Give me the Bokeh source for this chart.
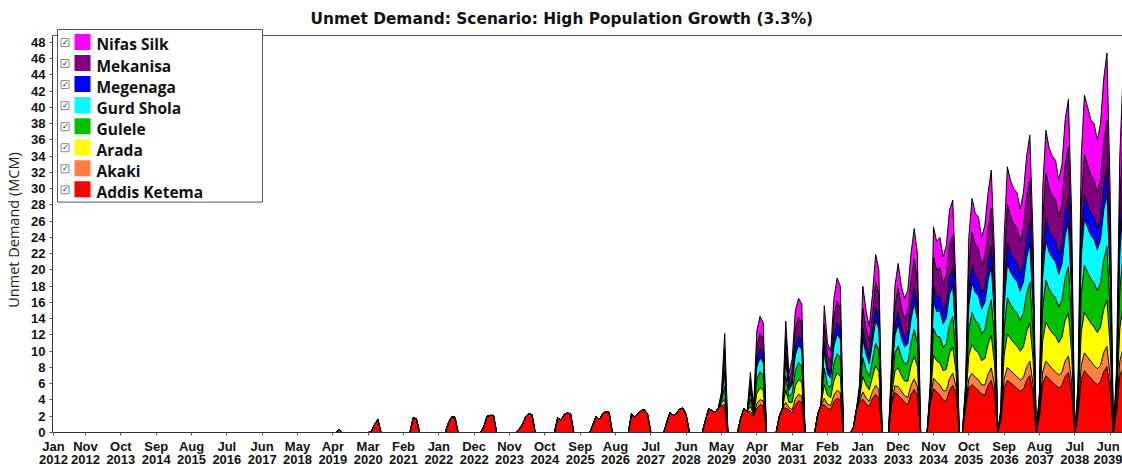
from bokeh.plotting import figure
from bokeh.models import Range1d, FixedTicker, ColumnDataSource
from bokeh.embed import file_html
from bokeh.resources import INLINE
from bokeh.core.properties import value

# ---------------------------------------------------------------------------
# Monthly unmet demand (MCM) per demand site.
# Each row is one dry season: Aug of the previous year .. Jul of the key year.
# Months not listed are zero. The 2040 row only reaches Oct 2039.
# ---------------------------------------------------------------------------
START_YEAR = 2012
N_MONTHS = 334  # Jan 2012 .. Oct 2039

ADDIS_KETEMA = {
    2019: [0, 0, 0, 0, 0, 0, 0, 0, 0, 0, 0.4, 0],
    2020: [0, 0, 0, 0, 0, 0, 0, 0, 0.1, 1.0, 1.6, 0],
    2021: [0, 0, 0, 0, 0, 0, 0, 0, 0, 1.8, 1.7, 0],
    2022: [0, 0, 0, 0, 0, 0, 0, 0, 1.2, 1.9, 1.9, 0],
    2023: [0, 0, 0, 0, 0, 0, 0, 0.7, 2.0, 2.1, 2.1, 0],
    2024: [0, 0, 0, 0, 0, 0, 0.4, 1.0, 1.9, 2.3, 2.2, 0],
    2025: [0, 0, 0, 0, 0, 0, 1.8, 1.5, 2.2, 2.4, 2.3, 0],
    2026: [0, 0, 0, 0, 0, 1.0, 2.0, 1.6, 2.3, 2.6, 2.5, 0],
    2027: [0, 0, 0, 0, 0, 2.3, 1.9, 2.3, 2.7, 2.8, 2.2, 0],
    2028: [0, 0, 0, 0, 1.3, 2.5, 2.1, 2.4, 2.9, 3.0, 2.2, 0],
    2029: [0, 0, 0, 0, 1.5, 2.9, 2.7, 2.45, 3.0, 3.3, 3.0, 0],
    2030: [0, 0, 0, 1.8, 3.0, 2.6, 2.3, 2.0, 3.0, 3.4, 3.3, 0],
    2031: [0, 0, 0, 2.0, 3.0, 3.0, 2.8, 2.4, 3.4, 3.9, 3.7, 0],
    2032: [0, 0, 0, 2.3, 3.4, 3.4, 3.0, 2.8, 3.8, 4.2, 4.0, 0],
    2033: [0, 0, 0.5, 2.8, 3.8, 4.1, 3.5, 3.2, 4.2, 4.7, 4.3, 0],
    2034: [0, 0, 3.5, 4.9, 4.6, 4.2, 3.7, 3.4, 4.7, 5.3, 4.5, 0],
    2035: [0, 0, 3.5, 5.4, 5.0, 4.6, 4.0, 3.9, 5.2, 5.8, 4.8, 0],
    2036: [0, 3.0, 5.5, 5.9, 5.5, 5.2, 4.7, 4.6, 5.8, 6.4, 4.8, 0],
    2037: [1.5, 5.5, 6.4, 6.1, 5.8, 5.4, 5.1, 5.3, 6.4, 7.0, 4.8, 0],
    2038: [2.0, 6.0, 7.0, 6.6, 6.2, 5.8, 5.5, 5.8, 6.9, 7.4, 5.0, 0],
    2039: [2.2, 6.5, 7.6, 7.1, 6.7, 6.2, 5.9, 6.2, 7.5, 8.1, 5.3, 0],
    2040: [2.5, 7.0, 8.0],
}

AKAKI = {
    2029: [0, 0, 0, 0, 0, 0, 0, 0, 0, 0.1, 0.4, 0],
    2030: [0, 0, 0, 0, 0, 0, 0.3, 0.1, 0.6, 0.65, 0.6, 0],
    2031: [0, 0, 0, 0, 0, 0.7, 0.3, 0.4, 0.75, 0.8, 0.8, 0],
    2032: [0, 0, 0, 0, 0, 0.8, 0.5, 0.5, 0.8, 1.0, 0.9, 0],
    2033: [0, 0, 0, 0, 0.15, 0.9, 0.75, 0.65, 0.85, 1.1, 1.0, 0],
    2034: [0, 0, 0.35, 0.85, 1.05, 0.9, 0.85, 0.9, 1.1, 1.3, 1.15, 0],
    2035: [0, 0, 0.15, 1.3, 1.2, 1.25, 1.15, 1.25, 1.45, 1.5, 0.85, 0],
    2036: [0, 0.2, 1.1, 1.4, 1.3, 1.3, 1.15, 1.25, 1.4, 1.55, 1.05, 0],
    2037: [0.1, 1.1, 1.6, 1.5, 1.45, 1.45, 1.35, 1.45, 1.65, 1.8, 1.15, 0],
    2038: [0.2, 1.45, 1.8, 1.7, 1.65, 1.65, 1.55, 1.65, 1.9, 2.0, 1.3, 0],
    2039: [0.25, 1.8, 2.2, 2.15, 2.05, 2.05, 1.95, 2.05, 2.35, 2.5, 1.6, 0],
    2040: [0.35, 1.75, 2.35],
}

ARADA = {
    2029: [0, 0, 0, 0, 0, 0, 0, 0, 0, 0.2, 0.7, 0],
    2030: [0, 0, 0, 0, 0, 0, 0.6, 0.1, 1.2, 1.45, 1.3, 0],
    2031: [0, 0, 0, 0, 0, 1.5, 0.6, 0.9, 1.6, 1.8, 1.7, 0],
    2032: [0, 0, 0, 0, 0, 1.7, 1.1, 1.0, 1.8, 2.1, 2.0, 0],
    2033: [0, 0, 0, 0, 0.3, 1.9, 1.6, 1.4, 1.8, 2.4, 2.2, 0],
    2034: [0, 0, 0.75, 1.8, 2.3, 1.9, 1.8, 2.0, 2.4, 2.8, 2.45, 0],
    2035: [0, 0, 0.35, 2.8, 2.6, 2.7, 2.45, 2.65, 3.1, 3.2, 1.85, 0],
    2036: [0, 0.45, 2.9, 3.55, 3.35, 3.3, 3.0, 3.25, 3.7, 4.0, 2.65, 0],
    2037: [0.25, 2.9, 4.15, 3.95, 3.8, 3.8, 3.55, 3.8, 4.35, 4.7, 3.05, 0],
    2038: [0.45, 3.8, 4.8, 4.5, 4.4, 4.4, 4.0, 4.3, 5.0, 5.3, 3.5, 0],
    2039: [0.55, 4.05, 5.0, 4.85, 4.7, 4.7, 4.45, 4.7, 5.3, 5.7, 3.65, 0],
    2040: [0.8, 4.0, 5.3],
}

GULELE = {
    2029: [0, 0, 0, 0, 0, 0, 0, 0, 0, 0.3, 1.6, 0],
    2030: [0, 0, 0, 0, 0, 0, 0.9, 0.2, 1.7, 2.0, 1.8, 0],
    2031: [0, 0, 0, 0, 0, 1.8, 0.75, 1.1, 1.9, 2.1, 2.0, 0],
    2032: [0, 0, 0, 0, 0, 2.0, 1.3, 1.2, 2.1, 2.4, 2.3, 0],
    2033: [0, 0, 0, 0, 0.35, 2.3, 1.9, 1.6, 2.1, 2.8, 2.6, 0],
    2034: [0, 0, 0.9, 2.2, 2.7, 2.3, 2.1, 2.3, 2.85, 3.25, 2.9, 0],
    2035: [0, 0, 0.4, 3.3, 3.05, 3.2, 2.9, 3.15, 3.65, 3.75, 2.2, 0],
    2036: [0, 0.5, 3.15, 3.9, 3.65, 3.6, 3.3, 3.55, 4.0, 4.4, 2.9, 0],
    2037: [0.25, 3.15, 4.45, 4.2, 4.1, 4.1, 3.8, 4.1, 4.7, 5.0, 3.25, 0],
    2038: [0.5, 4.1, 5.15, 4.85, 4.75, 4.7, 4.35, 4.6, 5.35, 5.7, 3.75, 0],
    2039: [0.65, 4.7, 5.8, 5.6, 5.45, 5.45, 5.15, 5.45, 6.15, 6.6, 4.2, 0],
    2040: [0.95, 4.6, 6.15],
}

GURD_SHOLA = {
    2029: [0, 0, 0, 0, 0, 0, 0, 0, 0, 0.3, 1.5, 0],
    2030: [0, 0, 0, 0, 0, 0, 0.8, 0.2, 1.5, 1.7, 1.6, 0],
    2031: [0, 0, 0, 0, 0, 1.8, 0.75, 1.1, 1.9, 2.1, 2.0, 0],
    2032: [0, 0, 0, 0, 0, 2.0, 1.3, 1.2, 2.1, 2.4, 2.3, 0],
    2033: [0, 0, 0, 0, 0.35, 2.3, 1.9, 1.6, 2.1, 2.85, 2.6, 0],
    2034: [0, 0, 0.9, 2.2, 2.7, 2.3, 2.1, 2.3, 2.85, 3.25, 2.9, 0],
    2035: [0, 0, 0.4, 3.3, 3.05, 3.2, 2.9, 3.15, 3.65, 3.75, 2.2, 0],
    2036: [0, 0.5, 2.95, 3.65, 3.45, 3.4, 3.1, 3.35, 3.8, 4.15, 2.75, 0],
    2037: [0.25, 2.95, 4.2, 4.0, 3.9, 3.85, 3.6, 3.9, 4.4, 4.75, 3.05, 0],
    2038: [0.5, 3.85, 4.85, 4.55, 4.5, 4.45, 4.1, 4.4, 5.1, 5.4, 3.55, 0],
    2039: [0.65, 4.6, 5.7, 5.55, 5.35, 5.35, 5.05, 5.35, 6.05, 6.5, 4.15, 0],
    2040: [0.9, 4.55, 6.05],
}

MEGENAGA = {
    2029: [0, 0, 0, 0, 0, 0, 0, 0, 0, 0.1, 0.5, 0],
    2030: [0, 0, 0, 0, 0, 0, 0.6, 0.1, 1.0, 1.2, 1.1, 0],
    2031: [0, 0, 0, 0, 0, 1.0, 0.4, 0.6, 1.1, 1.2, 1.15, 0],
    2032: [0, 0, 0, 0, 0, 1.2, 0.8, 0.7, 1.2, 1.4, 1.3, 0],
    2033: [0, 0, 0, 0, 0.2, 1.3, 1.1, 0.9, 1.2, 1.65, 1.5, 0],
    2034: [0, 0, 0.55, 1.25, 1.5, 1.3, 1.2, 1.35, 1.65, 1.9, 1.65, 0],
    2035: [0, 0, 0.25, 1.9, 1.75, 1.85, 1.7, 1.8, 2.1, 2.15, 1.25, 0],
    2036: [0, 0.3, 1.75, 2.2, 2.05, 2.0, 1.85, 2.0, 2.25, 2.45, 1.65, 0],
    2037: [0.15, 1.75, 2.5, 2.35, 2.3, 2.3, 2.1, 2.3, 2.6, 2.8, 1.8, 0],
    2038: [0.3, 2.3, 2.85, 2.7, 2.65, 2.65, 2.4, 2.6, 3.0, 3.2, 2.1, 0],
    2039: [0.3, 2.35, 2.9, 2.8, 2.7, 2.7, 2.55, 2.7, 3.05, 3.3, 2.1, 0],
    2040: [0.45, 2.3, 3.05],
}

MEKANISA = {
    2029: [0, 0, 0, 0, 0, 0, 0, 0, 0, 0.4, 2.5, 0],
    2030: [0, 0, 0, 0, 0, 0, 0.9, 0.15, 1.6, 1.8, 1.8, 0],
    2031: [0, 0, 0, 0, 0, 1.9, 0.8, 1.2, 2.1, 2.3, 2.2, 0],
    2032: [0, 0, 0, 0, 0, 2.2, 1.5, 1.3, 2.3, 2.7, 2.5, 0],
    2033: [0, 0, 0, 0, 0.4, 2.5, 2.1, 1.8, 2.3, 3.1, 2.8, 0],
    2034: [0, 0, 1.0, 2.35, 2.9, 2.5, 2.3, 2.55, 3.1, 3.6, 3.15, 0],
    2035: [0, 0, 0.45, 3.6, 3.35, 3.5, 3.15, 3.45, 4.0, 4.1, 2.35, 0],
    2036: [0, 0.5, 3.3, 4.1, 3.85, 3.85, 3.45, 3.75, 4.25, 4.65, 3.1, 0],
    2037: [0.25, 3.3, 4.75, 4.5, 4.35, 4.35, 4.05, 4.35, 5.0, 5.3, 3.45, 0],
    2038: [0.55, 4.35, 5.5, 5.15, 5.05, 5.05, 4.65, 4.95, 5.75, 6.1, 4.0, 0],
    2039: [0.55, 4.05, 5.0, 4.9, 4.7, 4.7, 4.45, 4.7, 5.35, 5.7, 3.65, 0],
    2040: [0.8, 4.0, 5.35],
}

NIFAS_SILK = {
    2029: [0, 0, 0, 0, 0, 0, 0, 0, 0, 0.3, 2.0, 0],
    2030: [0, 0, 0, 0, 0, 0, 1.0, 0.15, 1.9, 2.1, 2.0, 0],
    2031: [0, 0, 0, 0, 0, 2.0, 0.9, 1.3, 2.25, 2.3, 2.25, 0],
    2032: [0, 0, 0, 0, 0, 2.3, 1.5, 1.3, 2.4, 2.8, 2.7, 0],
    2033: [0, 0, 0, 0, 0.45, 2.7, 2.15, 1.85, 2.45, 3.3, 3.0, 0],
    2034: [0, 0, 1.05, 2.45, 3.05, 2.6, 2.45, 2.7, 3.35, 3.7, 3.3, 0],
    2035: [0, 0, 0.5, 3.7, 3.5, 3.7, 3.35, 3.65, 4.25, 4.35, 2.5, 0],
    2036: [0, 0.55, 3.35, 4.1, 3.85, 3.85, 3.45, 3.75, 4.3, 4.7, 3.1, 0],
    2037: [0.25, 3.35, 4.65, 4.4, 4.3, 4.25, 3.95, 4.3, 4.9, 5.25, 3.45, 0],
    2038: [0.5, 4.15, 5.25, 4.95, 4.8, 4.8, 4.45, 4.7, 5.5, 5.9, 3.8, 0],
    2039: [0.85, 5.95, 7.3, 7.05, 6.85, 6.85, 6.5, 6.85, 7.75, 8.3, 5.35, 0],
    2040: [1.25, 5.8, 7.75],
}

# bottom of the stack first
SITES = ["Addis Ketema", "Akaki", "Arada", "Gulele", "Gurd Shola", "Megenaga", "Mekanisa", "Nifas Silk"]
SITE_ROWS = [ADDIS_KETEMA, AKAKI, ARADA, GULELE, GURD_SHOLA, MEGENAGA, MEKANISA, NIFAS_SILK]
SITE_COLORS = ["#FF0000", "#FF7F40", "#FFFF00", "#00C000", "#00FFFF", "#0000FF", "#800080", "#FF00FF"]

TICK_LABELS = [
    "Jan 2012", "Nov 2012", "Oct 2013", "Sep 2014", "Aug 2015", "Jul 2016", "Jun 2017", "May 2018",
    "Apr 2019", "Mar 2020", "Feb 2021", "Jan 2022", "Dec 2022", "Nov 2023", "Oct 2024", "Sep 2025",
    "Aug 2026", "Jul 2027", "Jun 2028", "May 2029", "Apr 2030", "Mar 2031", "Feb 2032", "Jan 2033",
    "Dec 2033", "Nov 2034", "Oct 2035", "Sep 2036", "Aug 2037", "Jul 2038", "Jun 2039",
]
Y_TICKS = list(range(0, 49, 2))
MONTH_NAMES = ["Jan", "Feb", "Mar", "Apr", "May", "Jun", "Jul", "Aug", "Sep", "Oct", "Nov", "Dec"]


def monthly(rows):
    out = [0.0] * N_MONTHS
    for season, vals in rows.items():
        first = (season - 1 - START_YEAR) * 12 + 7  # August before the season year
        for k, v in enumerate(vals):
            out[first + k] = v
    return out


def month_index(label):
    mon, year = label.split()
    return (int(year) - START_YEAR) * 12 + MONTH_NAMES.index(mon)


data = {"m": list(range(N_MONTHS))}
for name, rows in zip(SITES, SITE_ROWS):
    data[name] = monthly(rows)
source = ColumnDataSource(data)

# ---------------------------------------------------------------------------
# Figure geometry
# ---------------------------------------------------------------------------
W, H = 1122, 470
LEFT, TOP, BOTTOM = 52, 27, 37
FRAME_W = W - LEFT
FRAME_H = H - TOP - BOTTOM
PX_PER_MONTH = 3.212
PX_PER_UNIT = 8.146
X0 = -0.28

x_range = Range1d(X0, X0 + FRAME_W / PX_PER_MONTH)
y_range = Range1d(0, FRAME_H / PX_PER_UNIT)


def dx(px):
    return X0 + (px - LEFT) / PX_PER_MONTH


def dy(py):
    return (H - BOTTOM - py) / PX_PER_UNIT


p = figure(
    width=W, height=H, x_range=x_range, y_range=y_range,
    output_backend="svg", toolbar_location=None,
    min_border_left=LEFT, min_border_right=0, min_border_top=TOP, min_border_bottom=BOTTOM,
    title="Unmet Demand: Scenario: High Population Growth (3.3%)",
)
p.outline_line_color = None
p.grid.visible = False
p.background_fill_color = "white"
p.border_fill_color = "white"

p.title.text_font = "DejaVu Sans"
p.title.text_font_size = "15.4px"
p.title.text_font_style = "bold"
p.title.text_color = "#111111"
p.title.align = "left"
p.title.offset = 258
p.title.standoff = 0

# stacked areas with black outlines
p.varea_stack(stackers=SITES, x="m", color=SITE_COLORS, source=source)
p.vline_stack(stackers=SITES, x="m", color="black", line_width=1, source=source)

# top border of the plotting area
BORDER_Y = dy(35)
p.segment(x0=[X0], x1=[x_range.end], y0=[BORDER_Y], y1=[BORDER_Y], line_color="#555555", line_width=1)

# axes
ax = p.xaxis[0]
ax.ticker = FixedTicker(ticks=[month_index(t) for t in TICK_LABELS])
ax.major_label_overrides = {month_index(t): t.replace(" ", "\n") for t in TICK_LABELS}
ax.major_label_text_font = "Liberation Sans"
ax.major_label_text_font_style = "bold"
ax.major_label_text_font_size = "13px"
ax.major_label_text_line_height = 0.92
ax.major_label_text_color = "#111111"
ax.major_label_standoff = 3
ax.major_tick_out = 3
ax.major_tick_in = 0
ax.minor_tick_out = 0
ax.minor_tick_in = 0
ax.axis_line_color = "#333333"
ax.major_tick_line_color = "#555555"

ay = p.yaxis[0]
ay.ticker = FixedTicker(ticks=Y_TICKS)
ay.bounds = (0, BORDER_Y)
ay.major_label_text_font = "Liberation Sans"
ay.major_label_text_font_style = "bold"
ay.major_label_text_font_size = "13px"
ay.major_label_text_color = "#111111"
ay.major_label_standoff = 4
ay.major_tick_out = 3
ay.major_tick_in = 0
ay.minor_tick_out = 0
ay.minor_tick_in = 0
ay.axis_line_color = "#333333"
ay.major_tick_line_color = "#555555"
ay.axis_label = "Unmet Demand (MCM)"
ay.axis_label_text_font = "Open Sans"
ay.axis_label_text_font_style = "normal"
ay.axis_label_text_font_size = "14.5px"
ay.axis_label_text_color = "#222222"
ay.axis_label_standoff = 5

# legend panel with check boxes and colour swatches
p.quad(left=[dx(57)], right=[dx(262)], top=[dy(29)], bottom=[dy(202)],
       fill_color="white", line_color="#555555", line_width=1)
legend_names = SITES[::-1]
legend_colors = SITE_COLORS[::-1]
row_y = [44 + 21.1 * i for i in range(len(legend_names))]
p.scatter(x=[dx(64.5)] * len(row_y), y=[dy(r - 2) for r in row_y], marker="square", size=8,
          fill_color="white", line_color="#8a8a8a", line_width=1)
p.text(x=[dx(64.8)] * len(row_y), y=[dy(r - 2) for r in row_y], text=["\u2713"] * len(row_y),
       text_font=value("DejaVu Sans"), text_font_size="8px", text_font_style="bold",
       text_align="center", text_baseline="middle", text_color="#111111")
p.scatter(x=[dx(82)] * len(row_y), y=[dy(r - 2.5) for r in row_y], marker="square", size=16,
          fill_color=legend_colors, line_color=None)
p.text(x=[dx(96)] * len(row_y), y=[dy(r) for r in row_y], text=legend_names,
       text_font=value("Open Sans"), text_font_size="15.5px", text_font_style="bold",
       text_align="left", text_baseline="middle", text_color="#111111")

open("out.html", "w").write(file_html(p, INLINE))
